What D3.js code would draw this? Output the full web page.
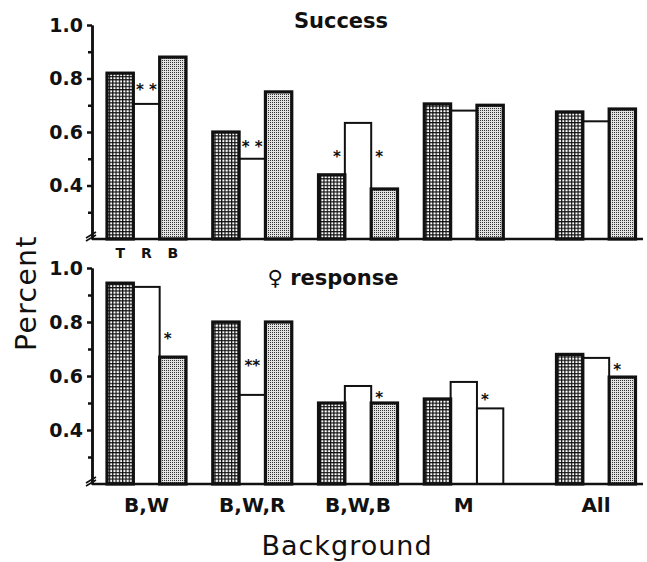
<!DOCTYPE html>
<html lang="en">
<head>
    <meta charset="UTF-8">
    <title>Success and female response by background</title>
    <script src="https://cdn.jsdelivr.net/npm/d3@7"></script>
    <style>
        body { margin: 0; background: #fff; }
        text { font-family: "DejaVu Sans", sans-serif; fill: #111; }
    </style>
</head>
<body>
<script>
    // data
    var categories = ["B,W", "B,W,R", "B,W,B", "M", "All"];
    var barKeys = ["T", "R", "B"];

    var successT = [0.82, 0.60, 0.44, 0.705, 0.675];
    var successR = [0.705, 0.50, 0.634, 0.68, 0.64];
    var successB = [0.88, 0.75, 0.387, 0.70, 0.686];

    var femaleT = [0.944, 0.80, 0.50, 0.515, 0.68];
    var femaleR = [0.93, 0.53, 0.563, 0.578, 0.667];
    var femaleB = [0.67, 0.80, 0.50, 0.48, 0.596];

    var yTicks = [0.4, 0.6, 0.8, 1.0];
    var yMinorTicks = [0.3, 0.5, 0.7, 0.9];

    // significance marks: group index, where (TR = left of R, R = over R, RB = right of R), level in data units
    var successSig = [
        {group: 0, at: "R", text: "* *", level: 0.77},
        {group: 1, at: "R", text: "* *", level: 0.555},
        {group: 2, at: "TR", text: "*", level: 0.52},
        {group: 2, at: "RB", text: "*", level: 0.52}
    ];
    var femaleSig = [
        {group: 0, at: "RB", text: "*", level: 0.75},
        {group: 1, at: "R", text: "**", level: 0.648},
        {group: 2, at: "RB", text: "*", level: 0.53},
        {group: 3, at: "RB", text: "*", level: 0.525},
        {group: 4, at: "RB", text: "*", level: 0.633}
    ];

    var width = 647, height = 562;
    var axisX = 92, lineEnd = 643;

    var svg = d3.select("body").append("svg")
        .attr("width", width)
        .attr("height", height);

    // fill patterns: dark grid for T, fine stipple for B
    var defs = svg.append("defs");
    var grid = defs.append("pattern")
        .attr("id", "grid").attr("patternUnits", "userSpaceOnUse")
        .attr("width", 3.3).attr("height", 3.3);
    grid.append("rect").attr("width", 3.3).attr("height", 3.3).attr("fill", "#fff");
    grid.append("rect").attr("width", 3.3).attr("height", 1.2).attr("fill", "#111");
    grid.append("rect").attr("width", 1.2).attr("height", 3.3).attr("fill", "#111");

    var stipple = defs.append("pattern")
        .attr("id", "stipple").attr("patternUnits", "userSpaceOnUse")
        .attr("width", 2).attr("height", 2);
    stipple.append("rect").attr("width", 2).attr("height", 2).attr("fill", "#e2e2e2");
    stipple.append("rect").attr("width", 1).attr("height", 1).attr("fill", "#333");

    // the "All" group sits a bit further right than the regular spacing
    function slot(i) { return categories[i] === "All" ? i + 0.25 : i; }

    var xGroup = d3.scaleLinear().domain([0, 4.25]).range([146.5, 596]);
    var xBar = d3.scaleBand().domain(barKeys).range([-39.5, 39.5]);

    var panels = [
        {id: "success", title: "Success", top: 25, bottom: 239, tx: 341, ty: 28,
         values: {T: successT, R: successR, B: successB}, sig: successSig},
        {id: "female", title: "\u2640 response", top: 268, bottom: 484, tx: 333, ty: 285,
         values: {T: femaleT, R: femaleR, B: femaleB}, sig: femaleSig}
    ];

    panels.forEach(function (p) {
        var y = d3.scaleLinear().domain([0.2, 1.0]).range([p.bottom, p.top]);
        var g = svg.append("g");

        // bars: R (white) first, then the outlined patterned bars over it
        var rows = [];
        ["R", "T", "B"].forEach(function (k) {
            categories.forEach(function (c, i) {
                rows.push({key: k, cat: c, i: i, v: p.values[k][i]});
            });
        });

        g.selectAll("rect.bar")
            .data(rows)
            .enter()
            .append("rect")
            .attr("class", "bar")
            .attr("x", function (d) { return xGroup(slot(d.i)) + xBar(d.key); })
            .attr("y", function (d) { return y(d.v); })
            .attr("width", xBar.bandwidth())
            .attr("height", function (d) { return y(0.2) - y(d.v); })
            .attr("fill", function (d) {
                if (d.key === "T") return "url(#grid)";
                if (d.key === "R") return "#fff";
                // the M / B bar of the lower panel is printed unshaded
                if (p.id === "female" && d.cat === "M") return "#fff";
                return "url(#stipple)";
            })
            .attr("stroke", "#111")
            .attr("stroke-width", function (d) {
                if (d.key === "R") return 2;
                if (p.id === "female" && d.cat === "M" && d.key === "B") return 2;
                return 3.2;
            });

        // baseline
        g.append("line")
            .attr("x1", axisX).attr("x2", lineEnd)
            .attr("y1", y(0.2)).attr("y2", y(0.2))
            .attr("stroke", "#111").attr("stroke-width", 2.5);

        // y axis
        var gAxis = g.append("g")
            .attr("transform", "translate(" + axisX + ",0)")
            .call(d3.axisLeft(y).tickValues(yTicks).tickSize(5).tickSizeOuter(0)
                .tickFormat(d3.format(".1f")));
        gAxis.append("g").call(d3.axisLeft(y).tickValues(yMinorTicks).tickSize(4)
            .tickSizeOuter(0).tickFormat(""));
        gAxis.selectAll("path.domain").attr("stroke", "#111").attr("stroke-width", 2.5);
        gAxis.selectAll(".tick line").attr("stroke", "#111").attr("stroke-width", 2.5);
        gAxis.selectAll(".tick text")
            .attr("x", -9)
            .style("font-family", "'DejaVu Sans', sans-serif")
            .style("font-size", "19px")
            .style("font-weight", "bold")
            .attr("fill", "#111");

        // axis break mark
        var by = y(0.2) - 4;
        g.append("path")
            .attr("d", "M" + (axisX - 6) + "," + (by + 3) + "L" + (axisX + 4) + "," + (by - 3) +
                  "M" + (axisX - 6) + "," + (by + 6) + "L" + (axisX + 4) + "," + (by))
            .attr("stroke", "#111").attr("stroke-width", 1.6).attr("fill", "none");

        // panel title
        g.append("text")
            .attr("x", p.tx).attr("y", p.ty)
            .attr("text-anchor", "middle")
            .style("font-size", "21px").style("font-weight", "bold")
            .text(p.title);

        // significance asterisks
        g.selectAll("text.sig")
            .data(p.sig)
            .enter()
            .append("text")
            .attr("class", "sig")
            .attr("x", function (d) {
                var gx = xGroup(slot(d.group));
                if (d.at === "R") return gx + xBar("R") + xBar.bandwidth() / 2;
                if (d.at === "TR") return gx + xBar("R") - 8;
                return gx + xBar("B") + 8;
            })
            .attr("y", function (d) { return y(d.level); })
            .attr("dy", "0.55em")
            .attr("text-anchor", "middle")
            .style("font-size", "15px").style("font-weight", "bold")
            .text(function (d) { return d.text; });
    });

    // T R B labels under the first group
    svg.selectAll("text.key")
        .data(barKeys)
        .enter()
        .append("text")
        .attr("class", "key")
        .attr("x", function (d) { return xGroup(0) + xBar(d) + xBar.bandwidth() / 2; })
        .attr("y", 258)
        .attr("text-anchor", "middle")
        .style("font-size", "14px").style("font-weight", "bold")
        .text(function (d) { return d; });

    // category labels
    svg.selectAll("text.cat")
        .data(categories)
        .enter()
        .append("text")
        .attr("class", "cat")
        .attr("x", function (d, i) { return xGroup(slot(i)); })
        .attr("y", 512)
        .attr("text-anchor", "middle")
        .style("font-size", "20px").style("font-weight", "bold")
        .text(function (d) { return d; });

    // axis titles
    svg.append("text")
        .attr("x", 347).attr("y", 555)
        .attr("text-anchor", "middle")
        .style("font-size", "27px").style("letter-spacing", "1px")
        .text("Background");

    svg.append("text")
        .attr("transform", "translate(36,293) rotate(-90)")
        .attr("text-anchor", "middle")
        .style("font-size", "28px").style("letter-spacing", "1.5px")
        .text("Percent");
</script>
</body>
</html>
